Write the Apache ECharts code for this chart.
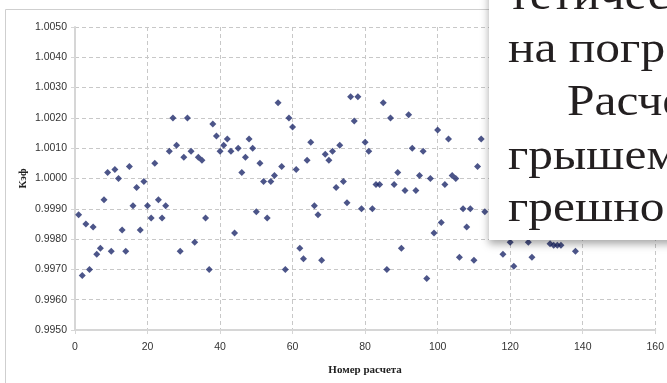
<!DOCTYPE html>
<html>
<head>
<meta charset="utf-8">
<script src="https://cdn.jsdelivr.net/npm/echarts@6/dist/echarts.min.js"></script>
<style>
html,body{margin:0;padding:0;background:#fff;}
#chart{width:667px;height:383px;}
</style>
</head>
<body>
<div id="chart"></div>
<script>
// Run numbers (x) and coefficient values (y)
const runs = [
  1,2,3,4,5,6,7,8,9,10,
  11,12,13,14,15,16,17,18,19,20,
  21,22,23,24,25,26,27,28,29,30,
  31,32,33,34,35,36,37,38,39,40,
  41,42,43,44,45,46,47,48,49,50,
  51,52,53,54,55,56,57,58,59,60,
  61,62,63,64,65,66,67,68,69,70,
  71,72,73,74,75,76,77,78,79,80,
  81,82,83,84,85,86,87,88,89,90,
  91,92,93,94,95,96,97,98,99,100,
  101,102,103,104,105,106,107,108,109,110,
  111,112,113,118,120,121,125,126,131,132,
  133,134,138
];
const kef = [
  0.9988,0.9968,0.9985,0.9970,0.9984,0.9975,0.9977,0.9993,1.0002,0.9976,
  1.0003,1.0000,0.9983,0.9976,1.0004,0.9991,0.9997,0.9983,0.9999,0.9991,
  0.9987,1.0005,0.9993,0.9987,0.9991,1.0009,1.0020,1.0011,0.9976,1.0007,
  1.0020,1.0009,0.9979,1.0007,1.0006,0.9987,0.9970,1.0018,1.0014,1.0009,
  1.0011,1.0013,1.0009,0.9982,1.0010,1.0002,1.0007,1.0013,1.0010,0.9989,
  1.0005,0.9999,0.9987,0.9999,1.0001,1.0025,1.0004,0.9970,1.0020,1.0017,
  1.0003,0.9977,0.99735,1.0006,1.0012,0.9991,0.9988,0.9973,1.0008,1.0006,
  1.0009,0.9997,1.0011,0.9999,0.9992,1.0027,1.0019,1.0027,0.9990,1.0012,
  1.0009,0.9990,0.9998,0.9998,1.0025,0.9970,1.0020,0.9998,1.0002,0.9977,
  0.9996,1.0021,1.0010,0.9996,1.0001,1.0009,0.9967,1.0000,0.9982,1.0016,
  0.99855,0.9998,1.0013,1.0001,1.0000,0.9974,0.9990,0.9984,0.9990,0.9973,
  1.0004,1.0013,0.9989,0.9975,0.9979,0.9971,0.9979,0.9974,0.99785,0.9978,
  0.9978,0.9978,0.9976
];
const xTicks = [0,20,40,60,80,100,120,140,160];
const yTicks = ['0.9950','0.9960','0.9970','0.9980','0.9990','1.0000','1.0010','1.0020','1.0030','1.0040','1.0050'];
const xName = 'Номер расчета';
const yName = 'Кэф';
const overlayLines = ['тетичес', 'на погр', 'Расче', 'грышем', 'грешно'];

const chart = echarts.init(document.getElementById('chart'), null, {renderer: 'canvas'});

const lineTop = [-2.5, 50.5, 103.5, 157.5, 209.5];
const lineLeft = [508, 508, 567, 508, 508];
const overlayTexts = overlayLines.map((t, i) => ({
  type: 'text',
  x: lineLeft[i],
  y: lineTop[i],
  scaleX: 1.1,
  z: 102,
  style: {
    text: t,
    font: '45px "Liberation Serif", "DejaVu Serif", serif',
    fill: '#231f20',
    textAlign: 'left',
    textVerticalAlign: 'middle'
  }
}));

const option = {
  backgroundColor: '#ffffff',
  animation: false,
  grid: {left: 75, top: 27, right: 9, bottom: 53, containLabel: false},
  xAxis: {
    type: 'value',
    min: xTicks[0],
    max: xTicks[xTicks.length - 1],
    interval: 20,
    name: xName,
    nameLocation: 'middle',
    nameGap: 35,
    nameMoveOverlap: false,
    nameTextStyle: {fontFamily: '"Liberation Serif", serif', fontWeight: 'bold', fontSize: 11, color: '#222'},
    axisLine: {lineStyle: {color: '#d6d6d6', width: 2}},
    axisTick: {show: true, length: 4, lineStyle: {color: '#d6d6d6'}},
    axisLabel: {fontFamily: '"Liberation Sans", Arial, sans-serif', fontSize: 10.5, color: '#333', margin: 12},
    splitLine: {show: true, lineStyle: {color: '#c8c8c8', type: [4, 3], width: 1}}
  },
  yAxis: {
    type: 'value',
    min: 0.995,
    max: 1.005,
    interval: 0.001,
    name: yName,
    nameLocation: 'middle',
    nameRotate: 90,
    nameGap: 46,
    nameMoveOverlap: false,
    nameTextStyle: {fontFamily: '"Liberation Serif", serif', fontWeight: 'bold', fontSize: 11, color: '#222'},
    axisLine: {show: true, lineStyle: {color: '#d6d6d6', width: 2}},
    axisTick: {show: true, length: 4, lineStyle: {color: '#d6d6d6'}},
    axisLabel: {
      fontFamily: '"Liberation Sans", Arial, sans-serif', fontSize: 10.5, color: '#333', margin: 8,
      formatter: function (v) {
        const idx = Math.round((v - 0.995) / 0.001);
        return yTicks[idx] !== undefined ? yTicks[idx] : v.toFixed(4);
      }
    },
    splitLine: {show: true, lineStyle: {color: '#c8c8c8', type: [4, 3], width: 1}}
  },
  series: [{
    type: 'scatter',
    symbol: 'diamond',
    symbolSize: 7,
    itemStyle: {color: '#1f2a6b'},
    data: runs.map((r, i) => [r, kef[i]]),
    z: 3
  }],
  graphic: {
    elements: [
      {
        type: 'rect',
        z: 0,
        silent: true,
        shape: {x: 5.5, y: 9.5, width: 720, height: 420},
        style: {fill: 'none', stroke: '#cfcfcf', lineWidth: 1}
      },
      {
        type: 'rect',
        z: 100,
        silent: true,
        shape: {x: 489, y: -30, width: 220, height: 270},
        style: {
          fill: '#ffffff',
          shadowColor: 'rgba(0,0,0,0.35)',
          shadowBlur: 8,
          shadowOffsetX: 0,
          shadowOffsetY: 4
        }
      }
    ].concat(overlayTexts)
  }
};
chart.setOption(option);
</script>
</body>
</html>
